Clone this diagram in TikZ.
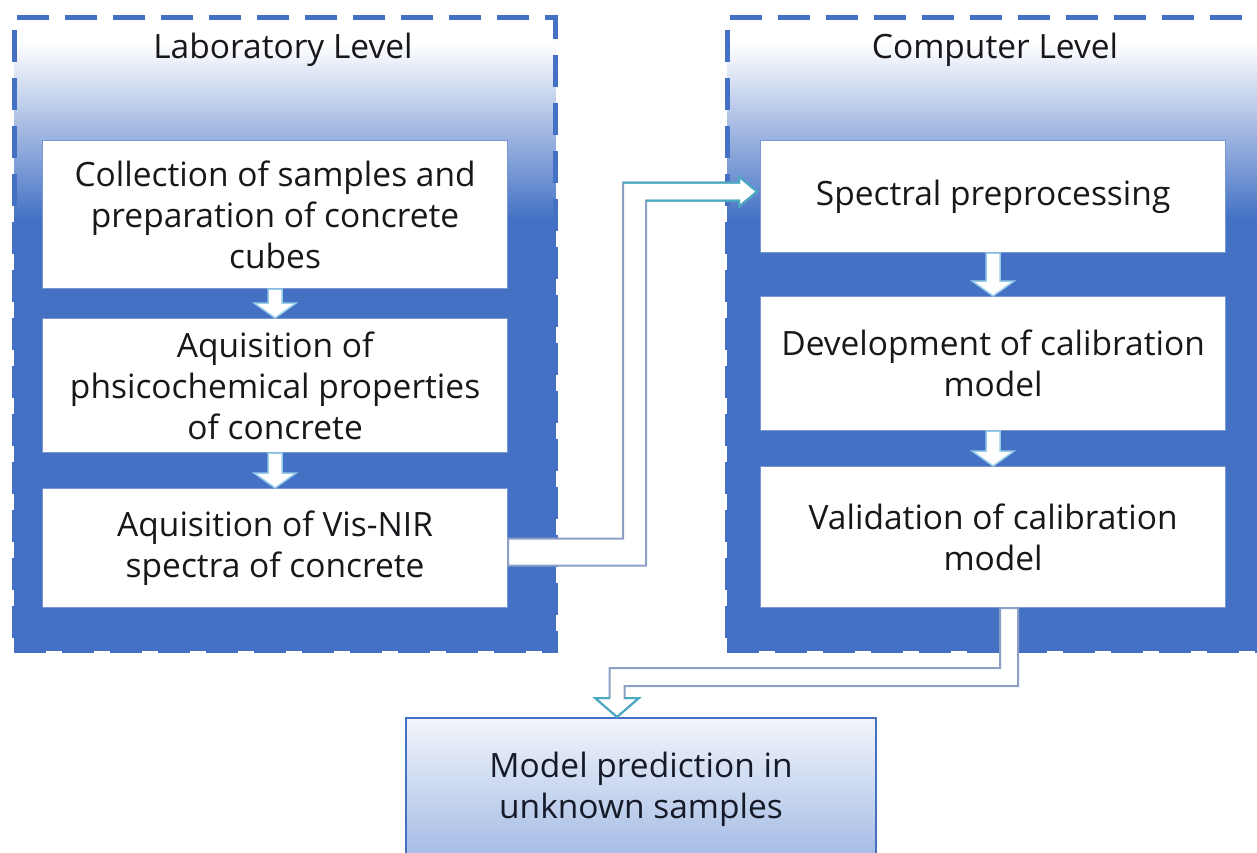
\documentclass[tikz,border=0pt]{standalone}
\usepackage{fontspec}
\setmainfont{Open Sans}
\usetikzlibrary{calc}
\definecolor{pblue}{RGB}{68,113,196}
\definecolor{bborder}{RGB}{120,150,210}
\definecolor{conn}{RGB}{140,160,198}
\definecolor{tealc}{RGB}{70,170,192}
\definecolor{glow}{RGB}{150,205,232}
\definecolor{predtop}{RGB}{242,245,251}
\definecolor{predbot}{RGB}{162,186,228}
\definecolor{txt}{RGB}{24,24,28}
\pgfdeclareverticalshading{panelshade}{100bp}{color(0bp)=(pblue); color(25bp)=(pblue); color(59bp)=(pblue); color(73bp)=(white); color(100bp)=(white)}
\tikzset{
  panel/.style={draw=pblue, line width=4.5pt, dash pattern=on 32pt off 16pt,
    shading=panelshade, minimum width=541pt, minimum height=633pt, inner sep=0pt,
    anchor=north west},
  ptitle/.style={text=txt, inner sep=0pt},
  stepbox/.style={draw=bborder, line width=1.2pt, fill=white, minimum width=465pt,
    inner sep=0pt, align=center, text=txt, anchor=north west},
  predbox/.style={draw=pblue, line width=2pt, top color=predtop, bottom color=predbot,
    minimum width=470pt, minimum height=142pt, inner sep=0pt, align=center,
    text={rgb,255:red,22;green,26;blue,40}, anchor=north west},
  smallarr/.style={fill=white, draw=glow, line width=1.5pt, line join=miter},
  bigarr/.style={fill=white, draw=conn, line width=2pt, line join=miter},
  headedge/.style={draw=tealc, line width=2pt, line join=miter}
}
\begin{document}
\begin{tikzpicture}[x=1pt, y=-1pt, font=\fontsize{33.5}{41}\selectfont]
\useasboundingbox (0,0) rectangle (1257,852);
% panels
\node[panel] (lab) at (12,15) {};
\node[panel] (comp) at (725,15) {};
\node[ptitle] (labt) at (283,50) {Laboratory Level};
\node[ptitle] (compt) at (995,50) {Computer Level};
% left boxes
\node[stepbox, minimum height=148pt] (b1) at (42,140) {Collection of samples and\\preparation of concrete\\cubes};
\node[stepbox, minimum height=134pt] (b2) at (42,318) {Aquisition of\\phsicochemical properties\\of concrete};
\node[stepbox, minimum height=119pt] (b3) at (42,488) {Aquisition of Vis-NIR\\spectra of concrete};
% right boxes
\node[stepbox, minimum height=112pt] (sp) at (760,140) {Spectral preprocessing};
\node[stepbox, minimum height=134pt] (dv) at (760,296) {Development of calibration\\model};
\node[stepbox, minimum height=141pt] (vl) at (760,466) {Validation of calibration\\model};
% bottom box
\node[predbox] (pred) at (405,717) {Model prediction in\\unknown samples};
% small arrows
\foreach \a/\b in {b1/b2, b2/b3, sp/dv, dv/vl}{
  \draw[smallarr] ($(\a.south)+(-7,0)$) -- ($(\b.north)+(-7,-15)$) -- ($(\b.north)+(-21,-15)$)
    -- (\b.north) -- ($(\b.north)+(21,-15)$) -- ($(\b.north)+(7,-15)$) -- ($(\a.south)+(7,0)$) -- cycle;
}
% big elbow arrow 1
\coordinate (s1) at ($(b3.east)+(0,4)$);
\coordinate (t1) at ($(sp.west)+(-3,-5)$);
\coordinate (k1) at (634.5,0);
\draw[bigarr] ($(s1)+(0,-13.5)$) -- ($(k1 |- s1)+(-11.5,-13.5)$) -- ($(k1 |- t1)+(-11.5,-9)$)
  -- ($(t1)+(-18,-9)$) -- ($(t1)+(-18,-15)$) -- (t1) -- ($(t1)+(-18,15)$) -- ($(t1)+(-18,9)$)
  -- ($(k1 |- t1)+(11.5,9)$) -- ($(k1 |- s1)+(11.5,13.5)$) -- ($(s1)+(0,13.5)$) -- cycle;
\draw[headedge] ($(k1 |- t1)+(-11.5,-9)$) -- ($(t1)+(-18,-9)$) -- ($(t1)+(-18,-15)$) -- (t1)
  -- ($(t1)+(-18,15)$) -- ($(t1)+(-18,9)$) -- ($(k1 |- t1)+(11.5,9)$);
% big elbow arrow 2
\coordinate (s2) at ($(vl.south)+(16,0)$);
\coordinate (t2) at ($(pred.north)+(-24,0)$);
\coordinate (k2) at (0,677);
\draw[bigarr] ($(s2)+(-9,0)$) -- ($(s2 |- k2)+(-9,-9)$) -- ($(t2 |- k2)+(-7.5,-9)$)
  -- ($(t2)+(-7.5,-19)$) -- ($(t2)+(-22,-19)$) -- (t2) -- ($(t2)+(22,-19)$) -- ($(t2)+(7.5,-19)$)
  -- ($(t2 |- k2)+(7.5,9)$) -- ($(s2 |- k2)+(9,9)$) -- ($(s2)+(9,0)$) -- cycle;
\draw[headedge] ($(t2)+(-7.5,-19)$) -- ($(t2)+(-22,-19)$) -- (t2) -- ($(t2)+(22,-19)$) -- ($(t2)+(7.5,-19)$);
\end{tikzpicture}
\end{document}
